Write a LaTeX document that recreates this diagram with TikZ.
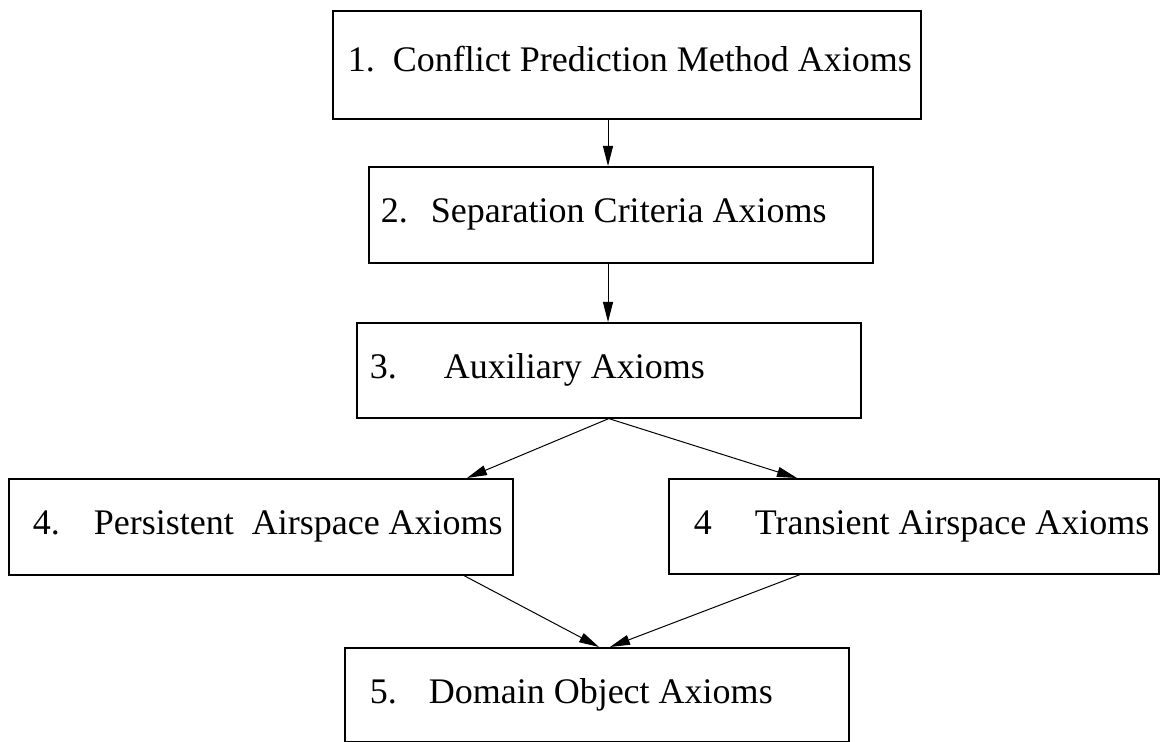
\documentclass[tikz,border=0pt]{standalone}
\usepackage{fontspec}
\setmainfont{Liberation Serif}
\usetikzlibrary{arrows.meta, calc}

\begin{document}
\begin{tikzpicture}[x=1pt, y=1pt]
        \tikzstyle{axiom} = [rectangle, draw, line width=0.8pt, anchor=north west, align=flush left, inner xsep=0pt, inner ysep=0pt, font=\fontsize{18}{22}\selectfont, execute at begin node={\spaceskip=0pt\xspaceskip=0pt\relax}]
        \tikzstyle{link} = [line width=0.5pt, -{Triangle[length=10pt, width=5pt]}]
        \useasboundingbox (0,0) rectangle (580.5,-371);
        % boxes, top to bottom
        \node (conflict) [axiom, text width=294pt, minimum height=54pt, text height=13pt, text depth=6pt] at (166,-5) {\hspace*{7.5pt}1.\hspace{9pt}Conflict Prediction Method Axioms};
        \node (separation) [axiom, text width=252pt, minimum height=48pt] at (184,-83) {\hspace*{6pt}2.\hspace{11.5pt}Separation Criteria Axioms};
        \node (auxiliary) [axiom, text width=252pt, minimum height=47.5pt] at (178,-161) {\hspace*{6.5pt}3.\hspace{23.5pt}Auxiliary Axioms};
        \node (persistent) [axiom, text width=252pt, minimum height=48pt] at (4,-239) {\hspace*{12pt}4.\hspace{17pt}Persistent~~Airspace Axioms};
        \node (transient) [axiom, text width=245pt, minimum height=47.5pt] at (334,-239) {\hspace*{12.5pt}4\hspace{21.5pt}Transient Airspace Axioms};
        \node (domain) [axiom, text width=252pt, minimum height=47pt] at (172,-323.5) {\hspace*{12.5pt}5.\hspace{16pt}Domain Object Axioms};
        % connectors
        \coordinate (spine) at (304,0);
        \draw [link] (conflict.south -| spine) -- (separation.north -| spine);
        \draw [link] (separation.south -| spine) -- (auxiliary.north -| spine);
        \draw [link] (auxiliary.south) -- ($(persistent.north west)+(229.5,0)$);
        \draw [link] (auxiliary.south) -- ($(transient.north west)+(64.5,0)$);
        \draw [link] ($(persistent.south west)+(228,0)$) -- ($(domain.north west)+(127.5,0)$);
        \draw [link] ($(transient.south west)+(66,0)$) -- ($(domain.north west)+(133,0)$);
    \end{tikzpicture}
\end{document}
